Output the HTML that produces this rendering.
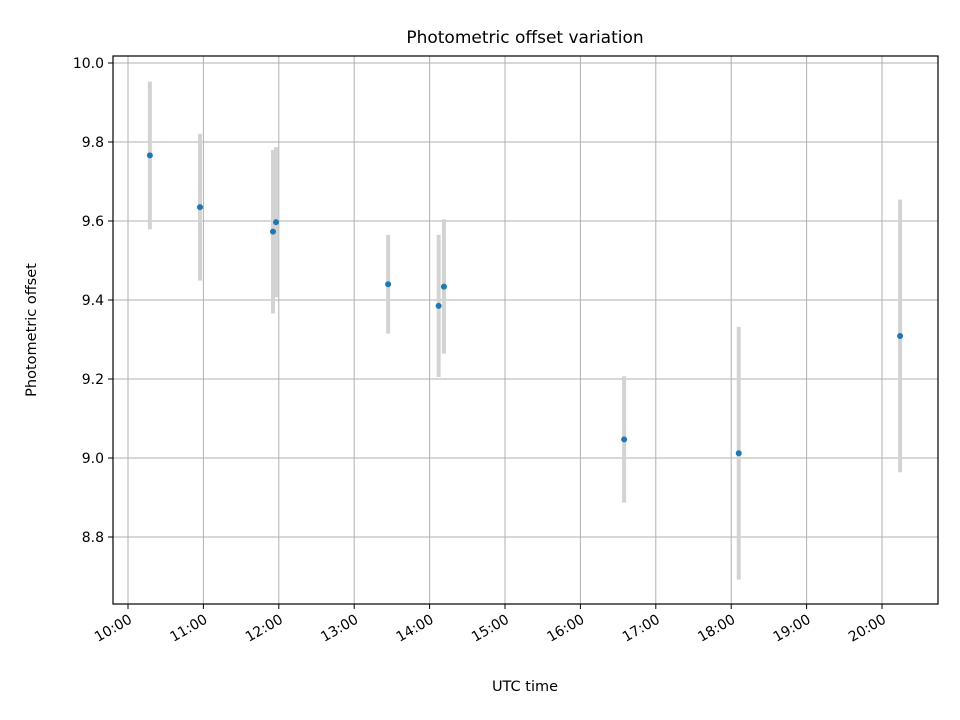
<!DOCTYPE html>
<html><head><meta charset="utf-8"><style>
body{margin:0;background:#fff}
svg{display:block;font-family:"DejaVu Sans","Liberation Sans",sans-serif}
</style></head><body>
<svg id="chart" width="960" height="720" viewBox="0 0 960 720" xmlns="http://www.w3.org/2000/svg">
<rect width="960" height="720" fill="#fff"/>
<g id="grid"></g><g id="errs"></g><g id="pts"></g><g id="ticks"></g>
<rect x="113" y="56" width="825" height="548" fill="none" stroke="#000" stroke-width="1.2"/>
<text x="525" y="43" font-size="17" text-anchor="middle">Photometric offset variation</text>
<text x="525" y="691" font-size="14.5" text-anchor="middle">UTC time</text>
<text x="36" y="330" font-size="14.5" text-anchor="middle" transform="rotate(-90 36 330)">Photometric offset</text>
</svg>
<script>
// hours after 10:00 UTC
const times=[0.29,0.955,1.923,1.963,3.45,4.12,4.19,6.58,8.10,10.24];
const offsets=[9.766,9.635,9.573,9.597,9.44,9.385,9.434,9.047,9.012,9.309];
const errors=[0.187,0.186,0.207,0.19,0.125,0.18,0.17,0.16,0.32,0.345];
const xTickLabels=["10:00","11:00","12:00","13:00","14:00","15:00","16:00","17:00","18:00","19:00","20:00"];
const yTickValues=[8.8,9.0,9.2,9.4,9.6,9.8,10.0];

const NS="http://www.w3.org/2000/svg";
const X=h=>128+h*75.4;
const Y=v=>458-(v-9.0)*395;
function mk(tag,attrs,parent,text){const e=document.createElementNS(NS,tag);for(const k in attrs)e.setAttribute(k,attrs[k]);if(text!==undefined)e.textContent=text;document.getElementById(parent).appendChild(e);return e;}
xTickLabels.forEach((lab,i)=>{
  const x=X(i);
  const g=mk('line',{x1:x,x2:x,y1:56,y2:604,stroke:'#b0b0b0','stroke-width':1},'grid');
  
  
  const t=mk('line',{x1:x,x2:x,y1:604,y2:609,stroke:'#000'},'ticks');
  
  
  const tx=mk('text',{x:x+5,y:622,'font-size':14,'text-anchor':'end',transform:`rotate(-30 ${x+5} 622)`},'ticks',lab);
  
  
});
yTickValues.forEach(v=>{
  const y=Y(v);
  const g=mk('line',{x1:113,x2:938,y1:y,y2:y,stroke:'#b0b0b0','stroke-width':1},'grid');
  
  
  const t=mk('line',{x1:108,x2:113,y1:y,y2:y,stroke:'#000'},'ticks');
  
  
  const tx=mk('text',{x:104,y:y+5,'font-size':14,'text-anchor':'end'},'ticks',v.toFixed(1));
  
  
});
times.forEach((h,i)=>{
  const x=X(h);
  const e=mk('line',{x1:x,x2:x,y1:Y(offsets[i]+errors[i]),y2:Y(offsets[i]-errors[i]),stroke:'#d3d3d3','stroke-width':4},'errs');
  
  
  const p=mk('circle',{cx:x,cy:Y(offsets[i]),r:3,fill:'#1f77b4'},'pts');
  
  
});
</script>
</body></html>
